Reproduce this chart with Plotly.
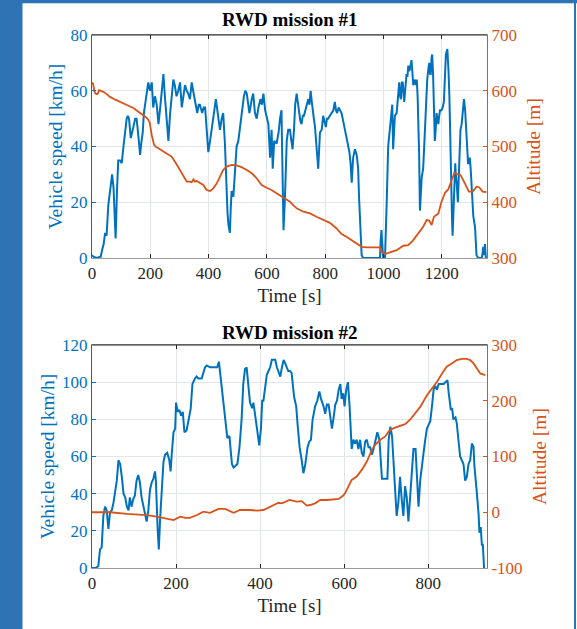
import plotly.graph_objects as go

# ---------------- Mission #1 ----------------
m1_speed_t = [0, 5, 15, 30, 35, 40, 45, 50, 56, 62, 69, 74, 78, 81, 86, 90, 96, 102, 108, 113, 119, 123, 127, 133, 138, 142, 148, 153, 158, 162, 165, 170, 174, 178, 182, 188, 193, 199, 205, 210, 216, 222, 228, 235, 240, 245, 250, 256, 262, 268, 274, 279, 284, 290, 296, 302, 308, 313, 319, 325, 330, 336, 342, 347, 353, 361, 366, 370, 378, 383, 388, 393, 396, 399, 405, 411, 418, 425, 430, 435, 439, 445, 450, 456, 459, 462, 465, 468, 473, 476, 479, 485, 490, 496, 502, 508, 513, 521, 526, 531, 536, 540, 548, 553, 559, 565, 571, 578, 583, 588, 594, 599, 605, 611, 616, 620, 625, 633, 640, 645, 650, 652, 654, 657, 662, 668, 673, 679, 684, 688, 693, 697, 702, 707, 711, 715, 719, 723, 727, 732, 736, 742, 746, 750, 754, 757, 761, 765, 770, 776, 782, 788, 793, 797, 802, 806, 810, 816, 822, 828, 833, 837, 841, 846, 851, 856, 860, 864, 868, 872, 876, 880, 883, 887, 891, 894, 896, 902, 905, 908, 911, 913, 916, 919, 922, 925, 930, 960, 988, 990, 993, 996, 999, 1005, 1008, 1011, 1016, 1022, 1028, 1030, 1033, 1036, 1039, 1045, 1050, 1054, 1057, 1060, 1063, 1066, 1071, 1075, 1079, 1082, 1085, 1088, 1091, 1096, 1099, 1102, 1105, 1108, 1111, 1114, 1117, 1119, 1122, 1125, 1128, 1131, 1136, 1139, 1142, 1146, 1150, 1154, 1157, 1160, 1162, 1165, 1167, 1170, 1173, 1176, 1179, 1182, 1185, 1188, 1191, 1194, 1199, 1203, 1207, 1210, 1214, 1219, 1221, 1223, 1226, 1228, 1232, 1235, 1237, 1239, 1242, 1246, 1248, 1251, 1255, 1258, 1260, 1264, 1268, 1271, 1276, 1280, 1284, 1287, 1290, 1292, 1296, 1299, 1302, 1305, 1308, 1314, 1317, 1319, 1325, 1337, 1340, 1342, 1345, 1348, 1351]
m1_speed = [1, 0.5, 0, 0.5, 3, 5, 9, 8, 19, 24, 30, 25, 15, 7, 25, 35, 35, 34, 40, 45, 50, 51, 50, 43, 46, 47, 50, 50, 45, 38, 37, 42, 45, 52, 55, 61, 63, 60, 63, 54, 58, 55, 48, 55, 60, 66, 58, 50, 42, 52, 58, 64, 62, 58, 60, 63, 54, 58, 62, 60, 59, 57, 63, 60, 57, 52, 55, 55, 52, 54, 54, 47, 43, 38, 42, 47, 53, 57, 53, 49, 46, 50, 52, 41, 30, 22, 16, 12, 9, 18, 24, 22, 32, 40, 42, 47, 51, 58, 60, 59, 55, 52, 57, 59, 52, 50, 54, 57, 55, 59, 53, 51, 48, 36, 46, 32, 42, 41, 45, 50, 53, 40, 17, 10, 22, 42, 46, 46, 42, 39, 46, 55, 59, 55, 53, 49, 48, 51, 51, 53, 55, 57, 55, 60, 56, 52, 50, 47, 41, 32, 45, 46, 51, 49, 47, 50, 50, 51, 52, 53, 56, 53, 52, 54, 53, 52, 50, 48, 46, 44, 41, 40, 38, 34, 27, 33, 36, 39, 38, 37, 34, 32, 22, 16, 8, 1, 0, 0, 0, 6, 10, 4, 0, 0, 8, 20, 40, 46, 52, 55, 39, 45, 51, 52, 58, 63, 58, 57, 63, 63, 56, 60, 66, 65, 69, 67, 68, 71, 66, 62, 63, 64, 62, 64, 58, 52, 38, 17, 22, 29, 32, 40, 48, 55, 64, 68, 70, 66, 66, 72, 73, 66, 56, 42, 46, 52, 50, 48, 51, 53, 53, 54, 56, 64, 73, 75, 72, 67, 58, 46, 23, 14, 8, 14, 22, 34, 30, 27, 20, 28, 34, 46, 48, 51, 57, 53, 45, 38, 34, 34, 36, 32, 27, 20, 15, 11, 5, 1, 0, 0, 2, 4, 1, 5, 0]

m1_alt_t = [0, 4, 8, 12, 18, 21, 24, 30, 39, 50, 62, 80, 95, 108, 125, 142, 160, 176, 186, 193, 198, 205, 213, 220, 228, 245, 262, 273, 288, 302, 313, 325, 336, 342, 348, 353, 359, 370, 382, 393, 405, 416, 428, 439, 450, 462, 479, 496, 513, 531, 548, 565, 582, 599, 616, 633, 651, 668, 679, 690, 702, 725, 748, 770, 793, 816, 839, 856, 873, 891, 908, 925, 942, 965, 988, 993, 1005, 1022, 1045, 1068, 1085, 1102, 1119, 1136, 1148, 1157, 1165, 1173, 1188, 1199, 1211, 1222, 1234, 1243, 1254, 1264, 1276, 1293, 1306, 1319, 1328, 1340, 1353]
m1_alt = [615, 612, 600, 595, 594, 596, 601, 600, 598, 594, 589, 584, 580, 577, 573, 569, 562, 557, 552, 548, 543, 520, 503, 499, 497, 491, 485, 482, 470, 458, 446, 437, 437, 436, 441, 437, 438, 434, 431, 422, 420, 425, 434, 446, 458, 464, 467, 466, 463, 458, 452, 443, 431, 426, 422, 416, 410, 404, 401, 395, 389, 383, 380, 374, 369, 363, 353, 343, 338, 332, 325, 320, 319, 319, 319, 311, 307, 310, 314, 322, 323, 332, 344, 356, 368, 367, 359, 374, 380, 401, 417, 423, 440, 453, 450, 449, 437, 419, 419, 428, 427, 419, 418]

# ---------------- Mission #2 ----------------
m2_speed_t = [0, 8, 15, 19, 23, 27, 31, 35, 39, 43, 47, 51, 55, 59, 63, 67, 71, 75, 79, 83, 87, 90, 94, 98, 102, 106, 110, 114, 118, 122, 126, 130, 134, 138, 142, 146, 150, 152, 156, 159, 162, 166, 170, 174, 179, 184, 187, 190, 194, 198, 200, 204, 208, 212, 216, 220, 225, 231, 235, 239, 245, 249, 253, 261, 265, 269, 273, 281, 293, 298, 302, 305, 309, 314, 319, 322, 327, 330, 333, 337, 341, 346, 351, 356, 360, 364, 368, 372, 376, 381, 384, 389, 394, 398, 402, 405, 408, 413, 416, 420, 424, 428, 432, 436, 440, 444, 448, 452, 456, 460, 463, 467, 471, 475, 481, 486, 489, 494, 499, 503, 507, 513, 517, 521, 525, 531, 536, 541, 545, 551, 555, 559, 563, 567, 571, 575, 579, 583, 587, 591, 594, 598, 601, 605, 609, 613, 616, 618, 622, 626, 630, 634, 638, 642, 646, 650, 654, 658, 662, 666, 670, 674, 679, 684, 687, 690, 698, 703, 706, 710, 714, 718, 721, 725, 729, 733, 737, 741, 745, 749, 753, 757, 761, 765, 770, 773, 777, 781, 785, 789, 793, 797, 801, 805, 809, 813, 817, 821, 825, 830, 837, 841, 846, 849, 854, 857, 860, 865, 868, 872, 876, 880, 884, 888, 892, 896, 900, 904, 908, 910, 914, 916, 920, 922, 925, 928, 930, 933, 935]
m2_speed = [0, 0, 1, 10, 11, 28, 33, 31, 21, 30, 31, 35, 41, 47, 58, 56, 49, 40, 38, 33, 31, 38, 33, 37, 39, 47, 50, 46, 38, 33, 28, 25, 31, 42, 46, 48, 52, 47, 22, 10, 26, 44, 57, 61, 62, 58, 52, 62, 73, 75, 89, 84, 85, 82, 84, 73, 74, 81, 86, 99, 102, 103, 102, 102, 105, 108, 109, 108, 108, 108, 111, 105, 96, 87, 76, 70, 71, 64, 56, 54, 55, 56, 65, 80, 99, 107, 108, 99, 89, 86, 89, 81, 74, 66, 75, 90, 90, 98, 104, 106, 108, 112, 112, 112, 108, 105, 103, 108, 112, 110, 108, 106, 106, 105, 92, 87, 78, 65, 58, 51, 55, 65, 68, 69, 80, 87, 90, 95, 91, 87, 83, 88, 88, 82, 75, 81, 88, 90, 96, 99, 91, 94, 87, 96, 100, 87, 74, 64, 69, 67, 69, 64, 69, 62, 60, 68, 69, 65, 65, 61, 64, 69, 73, 69, 58, 48, 48, 48, 69, 76, 71, 53, 38, 28, 35, 49, 37, 28, 44, 38, 25, 38, 51, 64, 64, 47, 33, 47, 56, 62, 69, 75, 77, 79, 87, 96, 98, 96, 99, 99, 99, 100, 101, 94, 85, 86, 80, 81, 78, 69, 60, 58, 56, 47, 49, 56, 58, 67, 65, 55, 47, 40, 29, 19, 22, 12, 13, 0, 0]

m2_alt_t = [0, 43, 83, 130, 154, 178, 194, 210, 222, 233, 250, 265, 281, 301, 317, 337, 352, 376, 392, 408, 428, 444, 452, 470, 487, 499, 511, 519, 531, 543, 559, 571, 587, 598, 602, 610, 618, 630, 642, 654, 666, 674, 686, 698, 706, 718, 733, 745, 757, 769, 781, 797, 809, 821, 833, 844, 856, 868, 880, 892, 900, 908, 916, 924, 936]
m2_alt = [0, 0, -3, -5, -8, -11, -14, -8, -10, -10, -5, 1, -1, 6, 6, -1, 4, 4, 3, 4, 11, 17, 16, 22, 19, 20, 12, 13, 16, 22, 22, 23, 24, 30, 34, 46, 58, 64, 76, 91, 112, 121, 130, 136, 145, 151, 155, 158, 166, 177, 189, 210, 222, 234, 249, 261, 267, 273, 275, 275, 273, 267, 258, 249, 246]

# Tick values / labels
m1_time_ticks = [0, 200, 400, 600, 800, 1000, 1200]
m1_speed_ticks = [0, 20, 40, 60, 80]
m1_alt_ticks = [300, 400, 500, 600, 700]
m2_time_ticks = [0, 200, 400, 600, 800]
m2_speed_ticks = [0, 20, 40, 60, 80, 100, 120]
m2_alt_ticks = [-100, 0, 100, 200, 300]
m2_alt_ticktext = ["-100", "0", "100", "200", "300"]

BLUE = "#0072BD"
ORANGE = "#D95319"
DARK = "#262626"
GRID = "#e2e6eb"
FRAME = "#2E74B5"
FONT = "Liberation Serif"

W, H = 577, 629
X0, X1 = 92 / W, 487 / W


def ydom(top_px, bottom_px):
    return [1 - bottom_px / H, 1 - top_px / H]


fig = go.Figure()

fig.add_trace(go.Scatter(x=m1_speed_t, y=m1_speed, mode="lines", xaxis="x", yaxis="y",
                         line=dict(color=BLUE, width=2), showlegend=False))
fig.add_trace(go.Scatter(x=m1_alt_t, y=m1_alt, mode="lines", xaxis="x", yaxis="y2",
                         line=dict(color=ORANGE, width=1.8), showlegend=False))
fig.add_trace(go.Scatter(x=m2_speed_t, y=m2_speed, mode="lines", xaxis="x2", yaxis="y3",
                         line=dict(color=BLUE, width=2), showlegend=False))
fig.add_trace(go.Scatter(x=m2_alt_t, y=m2_alt, mode="lines", xaxis="x2", yaxis="y4",
                         line=dict(color=ORANGE, width=1.8), showlegend=False))

tickfont_dark = dict(family=FONT, size=17, color=DARK)


def xaxis_cfg(rng, ticks, anchor):
    return dict(domain=[X0, X1], range=rng, anchor=anchor, tickvals=ticks,
                ticktext=[str(v) for v in ticks],
                showline=True, linecolor="#9a9a9a", linewidth=1, mirror="ticks",
                ticks="inside", ticklen=4, tickcolor=DARK, tickwidth=1,
                showgrid=True, gridcolor=GRID, gridwidth=1, zeroline=False,
                tickfont=tickfont_dark, automargin=False,
                title=dict(text="Time [s]", font=dict(family=FONT, size=19, color=DARK), standoff=6))


def yleft_cfg(dom, rng, ticks, anchor):
    return dict(domain=dom, range=rng, anchor=anchor, tickvals=ticks,
                ticktext=[str(v) for v in ticks],
                showline=True, linecolor=BLUE, linewidth=1,
                ticks="inside", ticklen=4, tickcolor=BLUE,
                showgrid=True, gridcolor=GRID, gridwidth=1, zeroline=False,
                tickfont=dict(family=FONT, size=17, color=BLUE), automargin=False,
                title=dict(text="Vehicle speed [km/h]", font=dict(family=FONT, size=19.5, color=BLUE), standoff=2))


def yright_cfg(rng, ticks, ticktext, anchor, overlay):
    return dict(range=rng, anchor=anchor, overlaying=overlay, side="right", tickvals=ticks,
                ticktext=ticktext,
                showline=True, linecolor=ORANGE, linewidth=1,
                ticks="inside", ticklen=4, tickcolor=ORANGE,
                showgrid=False, zeroline=False,
                tickfont=dict(family=FONT, size=17, color=ORANGE), automargin=False,
                title=dict(text="Altitude [m]", font=dict(family=FONT, size=19.5, color=ORANGE), standoff=10))


fig.update_layout(
    width=W, height=H,
    margin=dict(l=0, r=0, t=0, b=0),
    paper_bgcolor="white", plot_bgcolor="white",
    xaxis=xaxis_cfg([0, 1355], m1_time_ticks, "y"),
    yaxis=yleft_cfg(ydom(35, 258), [0, 80], m1_speed_ticks, "x"),
    yaxis2=yright_cfg([300, 700], m1_alt_ticks, [str(v) for v in m1_alt_ticks], "x", "y"),
    xaxis2=xaxis_cfg([0, 940], m2_time_ticks, "y3"),
    yaxis3=yleft_cfg(ydom(345, 568), [0, 120], m2_speed_ticks, "x2"),
    yaxis4=yright_cfg([-100, 300], m2_alt_ticks, m2_alt_ticktext, "x2", "y3"),
)

# Page frame: blue strips around the figure
frame_strips = [(0, 0, 22.5, H), (0, 0, W, 3.3), (574, 0, 576, H)]
for x0, y0, x1, y1 in frame_strips:
    fig.add_shape(type="rect", xref="paper", yref="paper",
                  x0=x0 / W, x1=x1 / W, y0=1 - y1 / H, y1=1 - y0 / H,
                  fillcolor=FRAME, line=dict(width=0), layer="below")

# Dark top border of each box
for xa, ya in (("x", "y"), ("x2", "y3")):
    fig.add_shape(type="line", xref=f"{xa} domain", yref=f"{ya} domain",
                  x0=0, x1=1, y0=1, y1=1, line=dict(color=DARK, width=1.2))

# Panel titles
for text, ypx in (("RWD mission #1", 20), ("RWD mission #2", 332)):
    fig.add_annotation(text=f"<b>{text}</b>", xref="paper", yref="paper",
                       x=290 / W, y=1 - ypx / H, showarrow=False,
                       font=dict(family=FONT, size=19, color="black"),
                       xanchor="center", yanchor="middle")

fig.write_html("out.html")
